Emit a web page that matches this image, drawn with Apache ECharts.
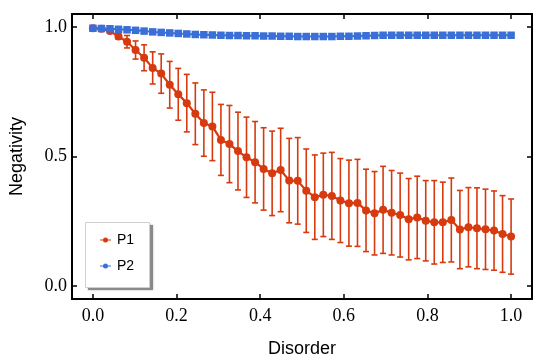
<!DOCTYPE html>
<html>
<head>
<meta charset="utf-8">
<script src="https://cdn.jsdelivr.net/npm/echarts@6/dist/echarts.min.js"></script>
<style>
html,body{margin:0;padding:0;background:#fff;}
#c{width:550px;height:364px;}
</style>
</head>
<body>
<div id="c"></div>
<script>
const disorder = [0,0.0204,0.0408,0.0612,0.0816,0.1020,0.1224,0.1429,0.1633,0.1837,
  0.2041,0.2245,0.2449,0.2653,0.2857,0.3061,0.3265,0.3469,0.3673,0.3878,
  0.4082,0.4286,0.4490,0.4694,0.4898,0.5102,0.5306,0.5510,0.5714,0.5918,
  0.6122,0.6327,0.6531,0.6735,0.6939,0.7143,0.7347,0.7551,0.7755,0.7959,
  0.8163,0.8367,0.8571,0.8776,0.8980,0.9184,0.9388,0.9592,0.9796,1.0];
const p1 = [0.995,0.993,0.984,0.963,0.943,0.911,0.881,0.842,0.820,0.777,
  0.740,0.706,0.665,0.629,0.616,0.564,0.548,0.521,0.497,0.478,
  0.452,0.435,0.448,0.407,0.406,0.368,0.343,0.352,0.348,0.330,
  0.320,0.321,0.292,0.281,0.294,0.283,0.274,0.258,0.265,0.252,
  0.246,0.246,0.255,0.218,0.227,0.223,0.219,0.214,0.201,0.191];
const p1err = [0,0.002,0.005,0.010,0.024,0.035,0.050,0.062,0.076,0.090,
  0.100,0.111,0.119,0.128,0.132,0.137,0.149,0.150,0.155,0.157,
  0.159,0.163,0.161,0.163,0.167,0.161,0.163,0.161,0.168,0.162,
  0.166,0.168,0.159,0.161,0.168,0.163,0.162,0.157,0.159,0.155,
  0.161,0.155,0.162,0.151,0.153,0.156,0.155,0.153,0.148,0.145];
const p2 = [0.995,0.994,0.993,0.991,0.989,0.987,0.984,0.981,0.979,0.977,
  0.975,0.973,0.971,0.970,0.969,0.968,0.967,0.967,0.966,0.966,
  0.965,0.965,0.964,0.964,0.963,0.963,0.963,0.963,0.963,0.964,
  0.964,0.965,0.966,0.967,0.968,0.968,0.968,0.968,0.968,0.968,
  0.968,0.968,0.968,0.968,0.968,0.968,0.968,0.968,0.968,0.968];
const xTicks = [0,0.2,0.4,0.6,0.8,1.0];
const yTicks = [0,0.5,1.0];
const seriesNames = ['P1','P2'];

const RED = '#d73a0e';
const BLUE = '#3a6fd7';
const serif = 'Liberation Serif';
const sans = 'Liberation Sans';
const legendIcon = 'path://M0,2.45H11V3.55H0Z M3,3A2.5,2.5 0 1 1 8,3A2.5,2.5 0 1 1 3,3Z';

const chart = echarts.init(document.getElementById('c'), null, {renderer:'canvas'});

function xAxisDef(pos, showLabel) {
  return {
    type:'value', position:pos, min:-0.05, max:1.05,
    name: showLabel ? 'Disorder' : '', nameLocation:'middle', nameGap:41,
    nameTextStyle:{fontFamily:sans, fontSize:18, color:'#000'},
    axisLine:{show:true, onZero:false, lineStyle:{color:'#000', width:2}},
    axisTick:{show:true, inside:true, length:5, customValues:xTicks, lineStyle:{color:'#000', width:1.5}},
    axisLabel:{show:showLabel, customValues:xTicks, margin:8, fontFamily:serif, fontSize:18, color:'#000',
      formatter:v=>v.toFixed(1)},
    splitLine:{show:false}
  };
}
function yAxisDef(pos, showLabel) {
  return {
    type:'value', position:pos, min:-0.05, max:1.05,
    name: showLabel ? 'Negativity' : '', nameLocation:'middle', nameGap:46,
    nameTextStyle:{fontFamily:sans, fontSize:18, color:'#000'},
    axisLine:{show:true, onZero:false, lineStyle:{color:'#000', width:2}},
    axisTick:{show:true, inside:true, length:5, customValues:yTicks, lineStyle:{color:'#000', width:1.5}},
    axisLabel:{show:showLabel, customValues:yTicks, margin:5, fontFamily:serif, fontSize:18, color:'#000',
      formatter:v=>v.toFixed(1)},
    splitLine:{show:false}
  };
}

const errData = disorder.map((x,i)=>[x, p1[i]-p1err[i], p1[i]+p1err[i]]);

chart.setOption({
  animation:false,
  backgroundColor:'#fff',
  grid:{left:72, top:14, right:18, bottom:65, containLabel:false},
  xAxis:[xAxisDef('bottom', true), xAxisDef('top', false)],
  yAxis:[yAxisDef('left', true), yAxisDef('right', false)],
  graphic:[
    {type:'rect', left:88, top:225, z:10, shape:{width:65, height:65},
      style:{fill:'#8a8a8a', shadowBlur:2, shadowColor:'rgba(0,0,0,0.3)'}},
    {type:'rect', left:85, top:222, z:11, shape:{width:64, height:65},
      style:{fill:'#fff', stroke:'#d0d0d0', lineWidth:1}}
  ],
  legend:{
    data:seriesNames.map(n=>({name:n, icon:legendIcon})),
    orient:'vertical', left:100, top:233, z:20,
    padding:0, itemGap:12, itemWidth:11, itemHeight:6,
    textStyle:{fontFamily:sans, fontSize:14, color:'#000', padding:[0,0,0,1]}
  },
  series:[
    {
      type:'custom', name:'P1err', xAxisIndex:0, yAxisIndex:0,
      data:errData, encode:{x:0, y:[1,2]}, z:1, silent:true,
      renderItem:function(params, api){
        const x = api.value(0), lo = api.value(1), hi = api.value(2);
        const a = api.coord([x, lo]), b = api.coord([x, hi]);
        const w = 3;
        const st = {stroke:RED, lineWidth:1.6};
        return {type:'group', children:[
          {type:'line', shape:{x1:a[0], y1:a[1], x2:b[0], y2:b[1]}, style:st},
          {type:'line', shape:{x1:a[0]-w, y1:a[1], x2:a[0]+w, y2:a[1]}, style:st},
          {type:'line', shape:{x1:b[0]-w, y1:b[1], x2:b[0]+w, y2:b[1]}, style:st}
        ]};
      }
    },
    {
      type:'line', name:'P1', data:disorder.map((x,i)=>[x,p1[i]]),
      symbol:'circle', symbolSize:8, z:2,
      lineStyle:{color:RED, width:2.2}, itemStyle:{color:RED}
    },
    {
      type:'line', name:'P2', data:disorder.map((x,i)=>[x,p2[i]]),
      symbol:'rect', symbolSize:7.5, z:3,
      lineStyle:{color:BLUE, width:2}, itemStyle:{color:BLUE}
    }
  ]
});
</script>
</body>
</html>
